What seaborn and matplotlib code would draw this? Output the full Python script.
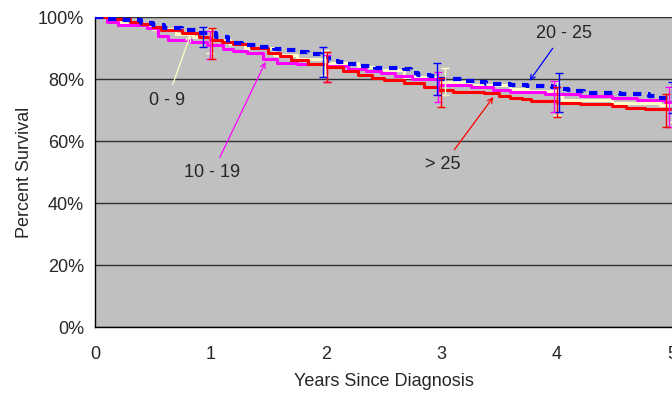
import matplotlib
matplotlib.use("Agg")
import matplotlib.pyplot as plt
import seaborn as sns
import pandas as pd
import numpy as np

# ---- data ----
t_0_9 = [0, 0.1, 0.3, 0.5, 0.7, 0.85, 1.0, 1.17, 1.3, 1.55, 1.75, 2.0, 2.28, 2.48, 2.68, 2.97, 3.26, 3.6, 3.75, 4.0, 4.05, 4.48, 4.9, 5.0]
s_0_9 = [100, 98.5, 97.4, 96.0, 94.5, 93.5, 92.6, 91.3, 90.0, 87.7, 86.5, 85.2, 83.9, 82.9, 80.6, 79.0, 78.0, 76.8, 76.0, 75.0, 73.2, 72.3, 71.6, 71.6]

t_10_19 = [0, 0.1, 0.2, 0.45, 0.55, 0.63, 0.83, 0.97, 1.11, 1.2, 1.32, 1.46, 1.58, 1.75, 2.0, 2.19, 2.35, 2.48, 2.6, 2.75, 2.97, 3.26, 3.45, 3.6, 3.9, 4.2, 4.48, 4.7, 4.94, 5.0]
s_10_19 = [100, 98.4, 97.5, 96.5, 94.0, 92.6, 92.0, 91.0, 89.7, 89.0, 88.4, 86.5, 85.2, 84.8, 84.2, 83.2, 82.5, 82.0, 81.0, 80.0, 78.0, 77.4, 76.5, 75.8, 75.2, 74.5, 73.9, 73.3, 72.6, 72.6]

t_20_25 = [0, 0.1, 0.25, 0.4, 0.5, 0.6, 0.75, 0.9, 1.05, 1.15, 1.27, 1.4, 1.55, 1.62, 1.75, 1.85, 1.96, 2.03, 2.11, 2.17, 2.3, 2.43, 2.68, 2.74, 2.8, 2.9, 2.96, 3.2, 3.33, 3.39, 3.6, 3.74, 3.96, 4.02, 4.1, 4.17, 4.24, 4.55, 4.8, 4.85, 5.0]
s_20_25 = [100, 99.5, 99.0, 98.2, 97.4, 96.5, 95.8, 94.8, 93.5, 91.6, 91.0, 90.3, 89.7, 89.2, 88.7, 88.0, 87.0, 85.8, 85.5, 84.8, 84.2, 83.5, 83.2, 82.0, 81.3, 81.0, 80.0, 79.4, 79.0, 78.4, 78.0, 77.7, 77.4, 76.8, 76.5, 76.1, 75.5, 75.2, 74.5, 73.9, 73.9]

t_gt25 = [0, 0.15, 0.3, 0.4, 0.5, 0.57, 0.75, 0.9, 1.0, 1.1, 1.2, 1.35, 1.5, 1.6, 1.7, 1.85, 2.0, 2.15, 2.28, 2.4, 2.5, 2.68, 2.85, 2.97, 3.1, 3.37, 3.5, 3.6, 3.7, 3.78, 4.0, 4.2, 4.48, 4.6, 4.77, 5.0]
s_gt25 = [100, 99.4, 98.5, 97.8, 96.8, 95.8, 94.8, 93.5, 92.6, 92.0, 91.3, 90.0, 88.4, 87.3, 86.0, 85.0, 83.9, 82.6, 81.3, 80.3, 79.7, 78.7, 77.5, 76.5, 75.8, 75.5, 74.5, 73.9, 73.4, 72.9, 72.3, 71.8, 71.3, 70.8, 70.3, 70.0]

# confidence interval bars (time, lower, upper)
ci_t_0_9 = [1.0, 1.99, 3.03, 4.0, 5.0]
ci_lo_0_9 = [88.5, 81.3, 74.8, 68.5, 66.0]
ci_hi_0_9 = [96.5, 89.4, 83.5, 79.0, 77.0]

ci_t_10_19 = [1.0, 2.01, 2.97, 3.98, 4.97]
ci_lo_10_19 = [86.5, 79.0, 72.6, 69.4, 64.5]
ci_hi_10_19 = [95.5, 87.7, 82.3, 79.4, 77.4]

ci_t_20_25 = [0.94, 1.98, 2.96, 4.02, 5.0]
ci_lo_20_25 = [90.3, 80.6, 74.8, 69.4, 69.0]
ci_hi_20_25 = [96.8, 90.3, 85.2, 82.0, 79.0]

ci_t_gt25 = [1.01, 2.01, 3.0, 4.0, 4.95]
ci_lo_gt25 = [86.5, 79.0, 71.0, 67.7, 64.5]
ci_hi_gt25 = [96.5, 88.7, 80.3, 77.4, 75.2]

labels = ["0 - 9", "10 - 19", "20 - 25", "> 25"]
x_ticks = [0, 1, 2, 3, 4, 5]
y_ticks = [0, 20, 40, 60, 80, 100]

# ---- style ----
sns.set_style("white")
plt.rcParams['font.family'] = ['Liberation Sans', 'DejaVu Sans']
FS = 13

fig = plt.figure(figsize=(6.72, 3.96), dpi=100)
ax = fig.add_axes([95/672, 1-327/396, 577/672, 310/396])
ax.set_facecolor('#C0C0C0')

series = [
    (labels[0], t_0_9, s_0_9, ci_t_0_9, ci_lo_0_9, ci_hi_0_9, '#FFFFC8', '-', 2.2, 2),
    (labels[1], t_10_19, s_10_19, ci_t_10_19, ci_lo_10_19, ci_hi_10_19, '#FF00FF', '-', 2.2, 3),
    (labels[3], t_gt25, s_gt25, ci_t_gt25, ci_lo_gt25, ci_hi_gt25, '#FF0000', '-', 2.2, 4),
    (labels[2], t_20_25, s_20_25, ci_t_20_25, ci_lo_20_25, ci_hi_20_25, '#0000FF', (0, (2, 1.6)), 3.0, 5),
]

for name, tt, ss, ct, lo, hi, col, ls, lw, z in series:
    df = pd.DataFrame({"Years": tt, "Survival": ss})
    sns.lineplot(data=df, x="Years", y="Survival", ax=ax, color=col, lw=lw,
                 linestyle=ls, drawstyle='steps-post', zorder=z, estimator=None,
                 sort=False, solid_capstyle='butt', dash_capstyle='butt')

for name, tt, ss, ct, lo, hi, col, ls, lw, z in series:
    lo_a = np.array(lo); hi_a = np.array(hi)
    mid = (lo_a + hi_a) / 2
    ax.errorbar(ct, mid, yerr=(hi_a - lo_a) / 2, fmt='none', ecolor=col,
                elinewidth=1.0, capsize=3, capthick=1.0, zorder=6, clip_on=True)

ax.set_xlim(0, 5)
ax.set_ylim(0, 100)
ax.set_xticks(x_ticks)
ax.set_yticks(y_ticks)
ax.set_xticklabels([str(v) for v in x_ticks], fontsize=FS)
ax.set_yticklabels([f"{v}%" for v in y_ticks], fontsize=FS)
ax.yaxis.grid(True, color='#303030', lw=1.0)
ax.xaxis.grid(False)
ax.set_axisbelow(True)
for s in ['top', 'right']:
    ax.spines[s].set_visible(False)
for s in ['left', 'bottom']:
    ax.spines[s].set_color('black')
    ax.spines[s].set_linewidth(1.0)
ax.tick_params(axis='y', direction='out', length=4, width=1, color='black', pad=4)
ax.tick_params(axis='x', direction='out', length=4, width=1, color='black', pad=10)
ax.set_xlabel("Years Since Diagnosis", fontsize=FS, labelpad=7)
ax.set_ylabel("Percent Survival", fontsize=FS, labelpad=3)

ann = [
    (labels[0], (0.826, 94.2), (0.626, 73.2), '#FFFFC8'),
    (labels[1], (1.478, 85.5), (1.017, 49.7), '#FF00FF'),
    (labels[2], (3.765, 79.4), (4.06, 94.8), '#0000FF'),
    (labels[3], (3.452, 74.2), (3.017, 52.3), '#FF0000'),
]
for txt, tip, pos, col in ann:
    ax.annotate(txt, xy=tip, xytext=pos, fontsize=FS, ha='center', va='center',
                arrowprops=dict(arrowstyle='->', color=col, lw=0.9,
                                mutation_scale=9, shrinkA=3, shrinkB=0),
                zorder=7)

fig.savefig("out.png", dpi=100)
